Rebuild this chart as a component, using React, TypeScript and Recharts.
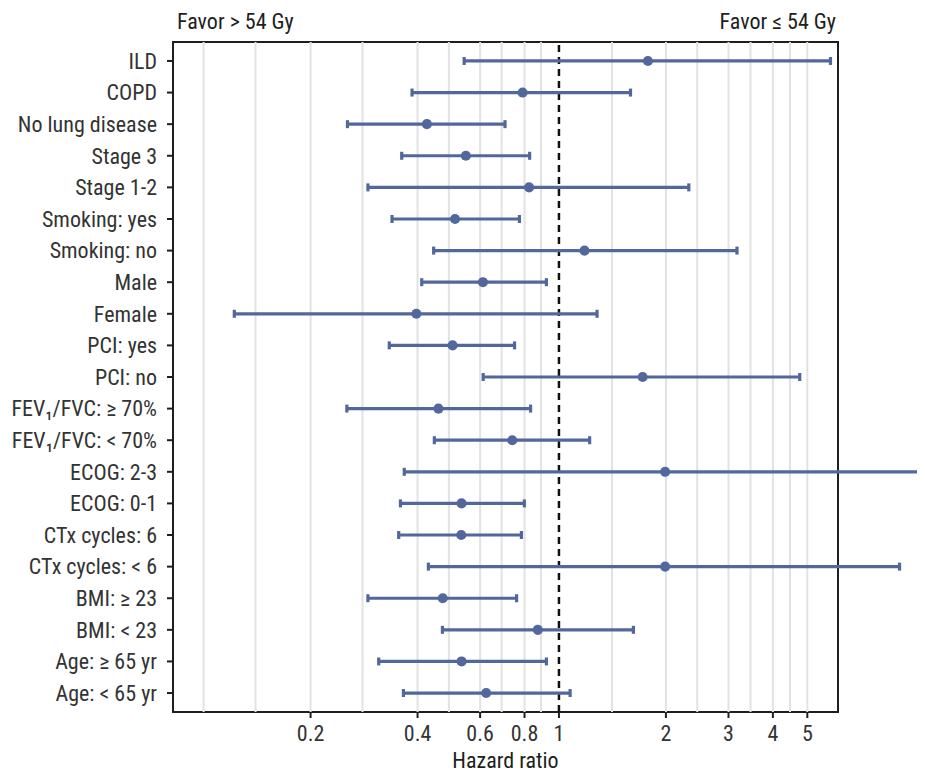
import React from "react";
import {
  ErrorBar,
  ReferenceArea,
  ReferenceLine,
  Scatter,
  ScatterChart,
  XAxis,
  YAxis,
  ZAxis,
} from "recharts";

const subgroups = [
  "ILD",
  "COPD",
  "No lung disease",
  "Stage 3",
  "Stage 1-2",
  "Smoking: yes",
  "Smoking: no",
  "Male",
  "Female",
  "PCI: yes",
  "PCI: no",
  "FEV₁/FVC: ≥ 70%",
  "FEV₁/FVC: < 70%",
  "ECOG: 2-3",
  "ECOG: 0-1",
  "CTx cycles: 6",
  "CTx cycles: < 6",
  "BMI: ≥ 23",
  "BMI: < 23",
  "Age: ≥ 65 yr",
  "Age: < 65 yr",
];

const hazardRatio = [
  1.78, 0.79, 0.425, 0.547, 0.824, 0.51, 1.18, 0.611, 0.397, 0.502, 1.72,
  0.458, 0.739, 1.99, 0.532, 0.531, 1.99, 0.471, 0.872, 0.532, 0.624,
];
const ciLower = [
  0.541, 0.386, 0.254, 0.361, 0.29, 0.339, 0.444, 0.411, 0.122, 0.333, 0.612,
  0.253, 0.446, 0.367, 0.358, 0.354, 0.429, 0.29, 0.47, 0.311, 0.365,
];
const ciUpper = [
  5.81, 1.59, 0.705, 0.827, 2.32, 0.774, 3.17, 0.922, 1.28, 0.75, 4.76,
  0.832, 1.22, 12.5, 0.799, 0.784, 9.09, 0.76, 1.62, 0.922, 1.075,
];

const xTicks = [0.2, 0.4, 0.6, 0.8, 1, 2, 3, 4, 5];
const gridValues = [
  0.1, 0.14, 0.2, 0.28, 0.4, 0.49, 0.6, 0.69, 0.8, 0.89, 1.41, 2, 2.45, 3,
  3.46, 4, 4.47, 5,
];
const xDomain = [0.082, 6.1];
const yDomain = [0.4, 21.6];

const rows = subgroups.map((name, i) => ({
  name,
  pos: i + 1,
  hr: hazardRatio[i],
  err: [hazardRatio[i] - ciLower[i], ciUpper[i] - hazardRatio[i]],
}));

const font = "'Roboto Condensed', 'Liberation Sans Narrow', 'DejaVu Sans Condensed', sans-serif";
const ink = "#1e1e1e";
const blue = "#52679b";

export default function App() {
  return (
    <div style={{ position: "relative", width: 917, height: 764, fontFamily: font }}>
      {/* error bars run past the panel, as in the original */}
      <style>{".recharts-surface [clip-path]{clip-path:none}"}</style>
      <div style={{ position: "absolute", left: 169, top: 2, fontSize: 22, lineHeight: "24px", color: ink }}>
        Favor &gt; 54 Gy
      </div>
      <div style={{ position: "absolute", right: 89, top: 2, fontSize: 22, lineHeight: "24px", color: ink }}>
        Favor ≤ 54 Gy
      </div>
      <ScatterChart
        width={917}
        height={764}
        data={rows}
        margin={{ top: 34, right: 87, bottom: 0, left: 0 }}
      >
        <XAxis
          type="number"
          dataKey="hr"
          scale="log"
          domain={xDomain}
          allowDataOverflow
          ticks={xTicks}
          tickFormatter={(v) => String(v)}
          height={60}
          tickSize={6}
          tickMargin={7}
          axisLine={false}
          tickLine={{ stroke: ink, strokeWidth: 2 }}
          tick={{ fill: "#333", fontSize: 22, fontFamily: font }}
          label={{ value: "Hazard ratio", position: "insideBottom", offset: 4, fill: ink, fontSize: 22, fontFamily: font }}
        />
        <YAxis
          type="number"
          dataKey="pos"
          domain={yDomain}
          allowDataOverflow
          reversed
          ticks={rows.map((r) => r.pos)}
          interval={0}
          tickFormatter={(v) => subgroups[v - 1]}
          width={165}
          tickSize={6}
          tickMargin={10}
          axisLine={false}
          tickLine={{ stroke: ink, strokeWidth: 2 }}
          tick={{ fill: "#333", fontSize: 22, fontFamily: font }}
        />
        <ZAxis range={[80, 80]} />
        {gridValues.map((g) => (
          <ReferenceLine key={g} x={g} stroke="#e2e2e2" strokeWidth={2} />
        ))}
        <ReferenceLine x={1} stroke="#111" strokeWidth={2.5} strokeDasharray="7 5" />
        <Scatter dataKey="hr" fill={blue} isAnimationActive={false}>
          <ErrorBar dataKey="err" direction="x" width={4} stroke={blue} strokeWidth={3.2} />
        </Scatter>
        <ReferenceArea
          x1={xDomain[0]}
          x2={xDomain[1]}
          y1={yDomain[0]}
          y2={yDomain[1]}
          fill="none"
          fillOpacity={0}
          stroke={ink}
          strokeWidth={2}
        />
      </ScatterChart>
    </div>
  );
}
